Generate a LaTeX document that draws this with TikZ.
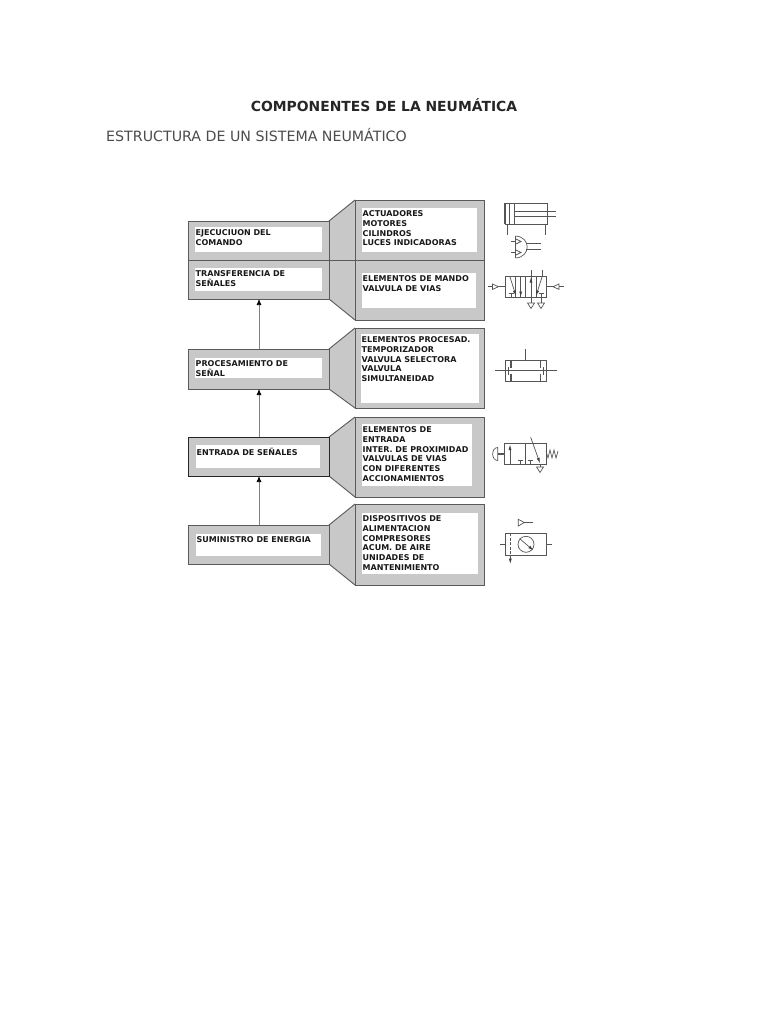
\documentclass[tikz,border=0pt]{standalone}
\usepackage{fontspec}
\setmainfont{DejaVu Sans}
\usetikzlibrary{arrows.meta,calc}
\definecolor{panel}{HTML}{C8C8C8}
\definecolor{edgec}{HTML}{5A5A5A}
\definecolor{symc}{HTML}{555555}
\tikzset{
  panelbox/.style={fill=panel,draw=edgec,line width=0.9pt},
  whitebox/.style={fill=white,draw=none,anchor=north west,inner sep=0pt,outer sep=0pt},
  lbl/.style={anchor=north west,inner sep=0pt,align=left,text=black!90,
    font=\fontsize{8}{9.7}\selectfont\bfseries},
  flow/.style={draw=black!50,line width=0.7pt,-{Latex[length=6pt,width=5pt,black]}},
  sym/.style={draw=symc,line width=0.7pt},
  symb/.style={draw=symc,line width=1.1pt},
  symh/.style={draw=symc,line width=0.7pt,-{Latex[length=5.5pt,width=3pt,black!75]}},
}
\newcommand{\wb}[6]{% name, x1, y1, x2, y2, text
  \path let \n1={#4-#2},\n2={#5-#3} in node[whitebox,minimum width=\n1 pt,minimum height=\n2 pt] (#1) at (#2,#3) {};
  \node[lbl] (#1t) at ([shift={(0.5pt,-2.5pt)}]#1.north west) {#6};
}
\begin{document}
\begin{tikzpicture}[x=1pt,y=-1pt]
\useasboundingbox (0,0) rectangle (768,1024);
\fill[white] (0,0) rectangle (768,1024);

\node[anchor=center,inner sep=0pt,text=black!85,font=\fontsize{13.9}{16}\selectfont\bfseries] (title) at (384,105.5) {COMPONENTES DE LA NEUMÁTICA};
\node[anchor=center,inner sep=0pt,text=black!70,font=\fontsize{14.2}{16}\selectfont] (subtitle) at (256.5,135.5) {ESTRUCTURA DE UN SISTEMA NEUMÁTICO};

% funnels and panels
\newcommand{\funnel}[4]{%
  \fill[panel] (329,#1)--(355,#3)--(355,#4)--(329,#2)--cycle;
  \draw[edgec,line width=0.9pt] (329,#1)--(355,#3) (329,#2)--(355,#4);
}
\funnel{221}{299}{200}{320}
\funnel{349}{389}{328}{408}
\funnel{437}{476}{417}{497}
\funnel{525}{564}{504}{585}

\draw[panelbox] (188,221) rectangle (329,299);
\draw[panelbox] (355,200) rectangle (484,320);
\draw[edgec,line width=0.9pt] (188,260)--(484,260);
\draw[panelbox] (188,349) rectangle (329,389);
\draw[panelbox] (355,328) rectangle (484,408);
\draw[fill=panel,draw=black!85,line width=1pt] (188,437) rectangle (329,476);
\draw[panelbox] (355,417) rectangle (484,497);
\draw[panelbox] (188,525) rectangle (329,564);
\draw[panelbox] (355,504) rectangle (484,585);

% named anchors of the left blocks
\coordinate (transferB) at (259,299);
\coordinate (procT) at (259,349);
\coordinate (procB) at (259,389);
\coordinate (entrT) at (259,437);
\coordinate (entrB) at (259,476);
\coordinate (sumT) at (259,525);
\draw[flow] (procT)--(transferB);
\draw[flow] (entrT)--(procB);
\draw[flow] (sumT)--(entrB);

% white text boxes
\wb{ejec}{195}{227}{322}{252}{EJECUCIUON DEL\\COMANDO}
\wb{tran}{195}{268}{322}{291}{TRANSFERENCIA DE\\SEÑALES}
\wb{proc}{195}{358}{322}{378}{PROCESAMIENTO DE\\SEÑAL}
\wb{entr}{196}{445}{320}{468}{ENTRADA DE SEÑALES}
\wb{sumi}{196}{534}{321}{556}{SUMINISTRO DE ENERGIA}
\wb{actu}{362}{208}{477}{252}{ACTUADORES\\MOTORES\\CILINDROS\\LUCES INDICADORAS}
\wb{mand}{362}{273}{476}{308}{ELEMENTOS DE MANDO\\VALVULA DE VIAS}
\wb{prsd}{361}{334}{479}{403}{ELEMENTOS PROCESAD.\\TEMPORIZADOR\\VALVULA SELECTORA\\VALVULA\\SIMULTANEIDAD}
\wb{eent}{362}{424}{472}{486}{ELEMENTOS DE\\ENTRADA\\INTER. DE PROXIMIDAD\\VALVULAS DE VIAS\\CON DIFERENTES\\ACCIONAMIENTOS}
\wb{disp}{362}{513}{478}{574}{DISPOSITIVOS DE\\ALIMENTACION\\COMPRESORES\\ACUM. DE AIRE\\UNIDADES DE\\MANTENIMIENTO}

% cylinder symbol
\draw[sym] (505,203) rectangle (547.5,224);
\draw[symb] (505,203)--(505,224) (509.5,203)--(509.5,224);
\draw[sym] (514,203)--(514,224);
\draw[sym] (514,211.7)--(556,211.7) (514,216.7)--(556,216.7);
\draw[symb] (507.3,224)--(507.3,235);
\draw[sym] (545.3,224)--(545.3,235);

% indicator symbol
\draw[sym] (515.7,236) .. controls (531,237) and (531,257) .. (515.7,258);
\draw[symb] (515.7,236)--(515.7,258);
\draw[sym] (526,243.3)--(541,243.3) (526,249.3)--(541,249.3);
\draw[sym] (511,241.5)--(515.7,241.5) (511,252.5)--(515.7,252.5);
\draw[sym] (516,239)--(521,241.5)--(516,244) (516,250)--(521,252.5)--(516,255);

% 5/2 valve symbol
\draw[sym] (505,276.7) rectangle (546.7,297.3);
\foreach \vx in {515.5,520.7,525.7,531,536}{\draw[sym] (\vx,276.7)--(\vx,297.3);}
\draw[symh] (510,277)--(516,296);
\draw[symh] (520.7,277)--(520.7,297);
\draw[symh] (531,297)--(531,277);
\draw[symh] (542,277)--(536,296);
\draw[sym] (531,270)--(531,277) (542.3,270)--(542.3,277);
\draw[sym] (511,293.5)--(511,297) (508.5,293.5)--(513.5,293.5);
\draw[sym] (541.5,293.5)--(541.5,297) (539,293.5)--(544,293.5);
\draw[sym] (531,297)--(531,303) (541,297)--(541,303);
\draw[sym] (527.5,303)--(534.5,303)--(531,308.5)--cycle;
\draw[sym] (537.5,303)--(544.5,303)--(541,308.5)--cycle;
\draw[sym] (488,286.7)--(492.5,286.7) (498.5,286.7)--(505,286.7);
\draw[sym] (492.5,284)--(498.5,286.7)--(492.5,289.4)--cycle;
\draw[sym] (546.7,286.7)--(553,286.7) (559,286.7)--(564,286.7);
\draw[sym] (559,284)--(553,286.7)--(559,289.4)--cycle;

% simultaneity symbol
\draw[sym] (505,360) rectangle (546.7,381);
\draw[symb] (495,370.7)--(557,370.7);
\draw[sym] (525.7,349)--(525.7,360);
\draw[symb] (511,360)--(511,368) (511,373.5)--(511,381);
\draw[symb] (540.7,360)--(540.7,368) (540.7,373.5)--(540.7,381);
\draw[sym] (508.5,367)--(508.5,374.5) (543.2,367)--(543.2,374.5);

% 3/2 valve symbol
\draw[sym] (504.3,443.3) rectangle (546,464.3);
\draw[symb] (504.3,443.3)--(546,443.3);
\draw[symb] (504.3,443.3)--(504.3,464.3);
\draw[sym] (525,443.3)--(525,464.3);
\draw[symh] (510,464)--(510,444.5);
\draw[sym] (520,460)--(520,464.3) (517.5,460)--(522.5,460);
\draw[sym] (530,460)--(530,464.3) (527.5,460)--(532.5,460);
\draw[symh] (530.7,437.3)--(540,463.3);
\draw[sym] (540,464.3)--(540,467);
\draw[sym] (536.5,467)--(543.5,467)--(540,472.5)--cycle;
\draw[sym] (546,451)--(548,458)--(550,450)--(552,458)--(554,450)--(556,458)--(558,451);
\draw[symb] (497.7,454)--(504.3,454);
\draw[sym] (497.7,447.5) .. controls (491,447.5) and (491,460.5) .. (497.7,460.5) -- cycle;

% air service unit symbol
\draw[sym] (518.3,519.3)--(524.3,522.5)--(518.3,526)--cycle;
\draw[sym] (524.3,522.5)--(533,522.5);
\draw[sym] (505.3,533.3) rectangle (546.7,555);
\draw[sym] (500,544)--(505.3,544) (546.7,544)--(551.7,544);
\draw[sym] (526,544.3) circle (8);
\draw[symh] (519.5,538.5)--(533.5,550.5);
\draw[sym,dash pattern=on 3pt off 1.5pt] (510.3,533.3)--(510.3,558);
\draw[symh] (510.3,558)--(510.3,564);
\end{tikzpicture}
\end{document}
